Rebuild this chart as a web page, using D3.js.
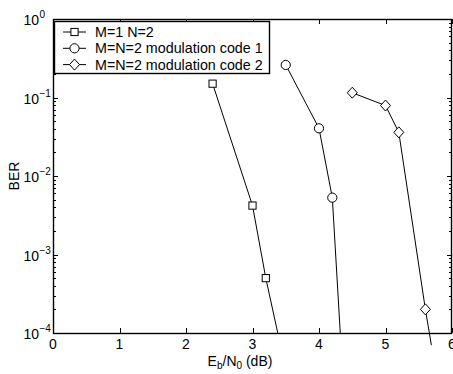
<!DOCTYPE html>
<html>
<head>
<meta charset="utf-8">
<script src="https://cdn.jsdelivr.net/npm/d3@7"></script>
<style>
  body { margin: 0; background: #fff; }
  text { font-family: "Liberation Sans", Arial, Helvetica, sans-serif; fill: #000; }
</style>
</head>
<body>
<svg id="chart" width="453" height="374"></svg>
<script>
// BER vs Eb/N0 curves
const seriesNames = ["M=1 N=2", "M=N=2 modulation code 1", "M=N=2 modulation code 2"];
const markerTypes = ["square", "circle", "diamond"];

const ebn0Square = [2.4, 3.0, 3.2];
const berSquare = [0.15, 0.0042, 0.0005];
const ebn0Circle = [3.5, 4.0, 4.2];
const berCircle = [0.26, 0.0405, 0.0053];
const ebn0Diamond = [4.5, 5.0, 5.2, 5.6];
const berDiamond = [0.115, 0.079, 0.036, 0.0002];

// where each curve leaves the plot (no marker)
const tailEbn0 = [3.38, 4.32, 5.69];
const tailBer = [1e-4, 1e-4, 7e-5];

const xTicks = [0, 1, 2, 3, 4, 5, 6];
const yExponents = [0, -1, -2, -3, -4];

const margin = { top: 19, right: 1, bottom: 41, left: 53 };
const width = 453 - margin.left - margin.right;
const height = 374 - margin.top - margin.bottom;

const svg = d3.select("#chart");
const g = svg.append("g").attr("transform", `translate(${margin.left},${margin.top})`);

const x = d3.scaleLinear().domain([0, 6]).range([0, width]);
const y = d3.scaleLog().domain([1e-4, 1]).range([height, 0]);

const series = [
	{ xs: ebn0Square, ys: berSquare },
	{ xs: ebn0Circle, ys: berCircle },
	{ xs: ebn0Diamond, ys: berDiamond }
].map((s, i) => ({
	name: seriesNames[i],
	marker: markerTypes[i],
	points: s.xs.map((v, j) => ({ x: v, y: s.ys[j] })),
	tail: { x: tailEbn0[i], y: tailBer[i] }
}));

// ticks (inward, mirrored on top/right)
const majorLen = 5, minorLen = 3;
const ticks = g.append("g").attr("stroke", "#000").attr("stroke-width", 1);
xTicks.forEach(t => {
	const px = Math.round(x(t)) + 0.5;
	ticks.append("line").attr("x1", px).attr("x2", px).attr("y1", height).attr("y2", height - majorLen);
	ticks.append("line").attr("x1", px).attr("x2", px).attr("y1", 0).attr("y2", majorLen);
});
yExponents.forEach(e => {
	const py = Math.round(y(Math.pow(10, e))) + 0.5;
	ticks.append("line").attr("x1", 0).attr("x2", majorLen).attr("y1", py).attr("y2", py);
	ticks.append("line").attr("x1", width).attr("x2", width - majorLen).attr("y1", py).attr("y2", py);
	if (e > -4) {
		for (let k = 2; k <= 9; k++) {
			const v = k * Math.pow(10, e - 1);
			const my = Math.round(y(v)) + 0.5;
			ticks.append("line").attr("x1", 0).attr("x2", minorLen).attr("y1", my).attr("y2", my);
			ticks.append("line").attr("x1", width).attr("x2", width - minorLen).attr("y1", my).attr("y2", my);
		}
	}
});

// frame
g.append("rect")
	.attr("x", 0.5).attr("y", 0.5)
	.attr("width", width - 1).attr("height", height)
	.attr("fill", "none").attr("stroke", "#000").attr("stroke-width", 1.4);

// tick labels
g.selectAll(".xlab").data(xTicks).enter().append("text")
	.attr("x", d => x(d)).attr("y", height + 16)
	.attr("text-anchor", "middle").attr("font-size", 14)
	.text(d => d);

yExponents.forEach(e => {
	const py = y(Math.pow(10, e));
	g.append("text").attr("text-anchor", "end").attr("font-size", 14)
		.attr("x", -14).attr("y", py + 6).text("10");
	g.append("text").attr("text-anchor", "start").attr("font-size", 10)
		.attr("x", -13.5).attr("y", py - 1).text(e === 0 ? "0" : "\u2212" + (-e));
});

// axis labels
const xl = svg.append("text").attr("x", 240).attr("y", 366).attr("text-anchor", "middle").attr("font-size", 14);
xl.append("tspan").text("E");
xl.append("tspan").attr("dy", 3).attr("font-size", 10).text("b");
xl.append("tspan").attr("dy", -3).text("/N");
xl.append("tspan").attr("dy", 3).attr("font-size", 10).text("0");
xl.append("tspan").attr("dy", -3).text(" (dB)");

svg.append("text")
	.attr("transform", `translate(19,176) rotate(-90)`)
	.attr("text-anchor", "middle").attr("font-size", 14)
	.text("BER");

// curves
const line = d3.line().x(d => x(d.x)).y(d => y(d.y));
g.selectAll(".curve").data(series).enter().append("path")
	.attr("d", d => line(d.points.concat([d.tail])))
	.attr("fill", "none").attr("stroke", "#000").attr("stroke-width", 1);

function drawMarker(sel, type) {
	if (type === "square") {
		sel.append("rect").attr("x", -3.6).attr("y", -3.6).attr("width", 7.2).attr("height", 7.2);
	} else if (type === "circle") {
		sel.append("circle").attr("r", 4.6);
	} else {
		sel.append("path").attr("d", "M0,-5.5L5,0L0,5.5L-5,0Z");
	}
	sel.attr("fill", "#fff").attr("stroke", "#000").attr("stroke-width", 1);
}

series.forEach(s => {
	s.points.forEach(p => {
		const m = g.append("g").attr("transform", `translate(${x(p.x)},${y(p.y)})`);
		drawMarker(m, s.marker);
	});
});

// legend
const legend = svg.append("g").attr("transform", "translate(54,21)");
legend.append("rect")
	.attr("x", 0.5).attr("y", 0.5).attr("width", 215).attr("height", 52)
	.attr("fill", "#fff").attr("stroke", "#000").attr("stroke-width", 1.4);
series.forEach((s, i) => {
	const ly = 11 + i * 16.3;
	const row = legend.append("g").attr("transform", `translate(0,${ly})`);
	row.append("line").attr("x1", 9).attr("x2", 32).attr("y1", 0).attr("y2", 0)
		.attr("stroke", "#000").attr("stroke-width", 1);
	drawMarker(row.append("g").attr("transform", "translate(20.5,0)"), s.marker);
	row.append("text").attr("x", 41).attr("y", 5).attr("font-size", 14.3).text(s.name);
});
</script>
</body>
</html>
